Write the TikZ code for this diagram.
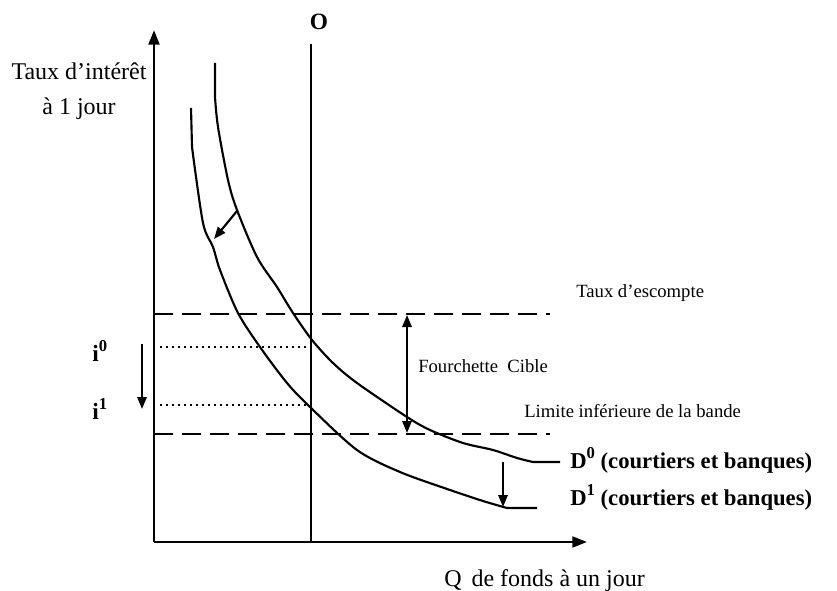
\documentclass[tikz,border=0pt]{standalone}
\usepackage{fontspec}
\setmainfont{Liberation Serif}
\usetikzlibrary{arrows.meta}
\newcommand{\supx}[1]{\raisebox{0.42em}{\fontsize{12.5}{12}\selectfont #1}}
\begin{document}
\begin{tikzpicture}[x=0.75pt,y=-0.75pt,
  axis/.style={line width=2.2pt,-{Triangle[length=11pt,width=8pt]}},
  curve/.style={line width=1.6pt,line join=round},
  dash line/.style={line width=2.2pt,dash pattern=on 14pt off 7pt},
  dot line/.style={line width=2pt,dash pattern=on 1.5pt off 3pt},
  arr/.style={line width=1.6pt,-{Triangle[length=9pt,width=7pt]}},
  dblarr/.style={line width=1.6pt,{Triangle[length=9pt,width=7pt]}-{Triangle[length=9pt,width=7pt]}},
  big/.style={font=\fontsize{18}{22}\selectfont,inner sep=0pt},
  small/.style={font=\fontsize{14}{16}\selectfont,inner sep=0pt},
  lbl/.style={font=\fontsize{17.5}{20}\selectfont\bfseries,inner sep=0pt},
  dlbl/.style={font=\fontsize{17}{20}\selectfont\bfseries,inner sep=0pt}]
\useasboundingbox (0,0) rectangle (837,591);
% axes
\coordinate (origin) at (154,542);
\coordinate (ytop) at (154,30);
\coordinate (xend) at (587,542);
\draw[axis] (origin) -- (ytop);
\draw[axis] (origin) -- (xend);
% O line
\coordinate (Otop) at (311,44);
\coordinate (Obot) at (311,542);
\draw[line width=2.2pt] (Otop) -- (Obot);
\node[lbl,anchor=base] (Olbl) at (319,30) {O};
% dashed lines
\coordinate (d1a) at (154,314); \coordinate (d1b) at (550,314);
\coordinate (d2a) at (154,434); \coordinate (d2b) at (550,434);
\draw[dash line] (d1a) -- (d1b);
\draw[dash line] (d2a) -- (d2b);
% dotted lines
\coordinate (i0a) at (160,347); \coordinate (i0b) at (311,347);
\coordinate (i1a) at (160,405); \coordinate (i1b) at (311,405);
\draw[dot line] (i0a) -- (i0b);
\draw[dot line] (i1a) -- (i1b);
% labels i0 i1
\node[lbl,anchor=base west] (i0) at (92,361) {i\supx{0}};
\node[lbl,anchor=base west] (i1) at (92,419) {i\supx{1}};
\coordinate (ia) at (142,344); \coordinate (ib) at (142,409);
\draw[arr] (ia) -- (ib);
% double arrow
\coordinate (fa) at (407,315); \coordinate (fb) at (407,433);
\draw[dblarr] (fa) -- (fb);
\node[small,anchor=base west] (fc) at (418,372) {Fourchette \ Cible};
\node[small,anchor=base west] (te) at (576,297) {Taux d’escompte};
\node[small,anchor=base west] (li) at (524,417) {Limite inférieure de la bande};
% curves
\draw[curve] (215,63) -- (215,97) plot[smooth,tension=0.5] coordinates {(215,97) (218,127) (228,180) (237,210) (257,257) (277,287) (293,313) (312,340) (333,363) (357,383) (407,417) (430,430) (463,443) (493,450) (517,458) (533,462)} -- (560,462) coordinate (D0end);
\draw[curve] (191,108) -- (192,147) plot[smooth,tension=0.5] coordinates {(192,147) (203,223) (213,247) (220,270) (238,313) (260,347) (287,383) (310,407) (357,450) (400,472) (450,490) (483,501) (507,508)} -- (537,508) coordinate (D1end);
\coordinate (sa) at (237,211); \coordinate (sb) at (214,239);
\draw[arr] (sa) -- (sb);
\coordinate (da) at (503,462); \coordinate (db) at (503,507);
\draw[arr] (da) -- (db);
\node[dlbl,anchor=base west] (D0) at (570,468) {D\supx{0} (courtiers et banques)};
\node[dlbl,anchor=base west] (D1) at (570,505) {D\supx{1} (courtiers et banques)};
% axis labels
\node[big,anchor=base] (yl1) at (79,80) {Taux d’intérêt};
\node[big,anchor=base] (yl2) at (79,115) {à 1 jour};
\node[big,anchor=base west] (xl) at (444,586) {Q\, de fonds à un jour};
\end{tikzpicture}
\end{document}
